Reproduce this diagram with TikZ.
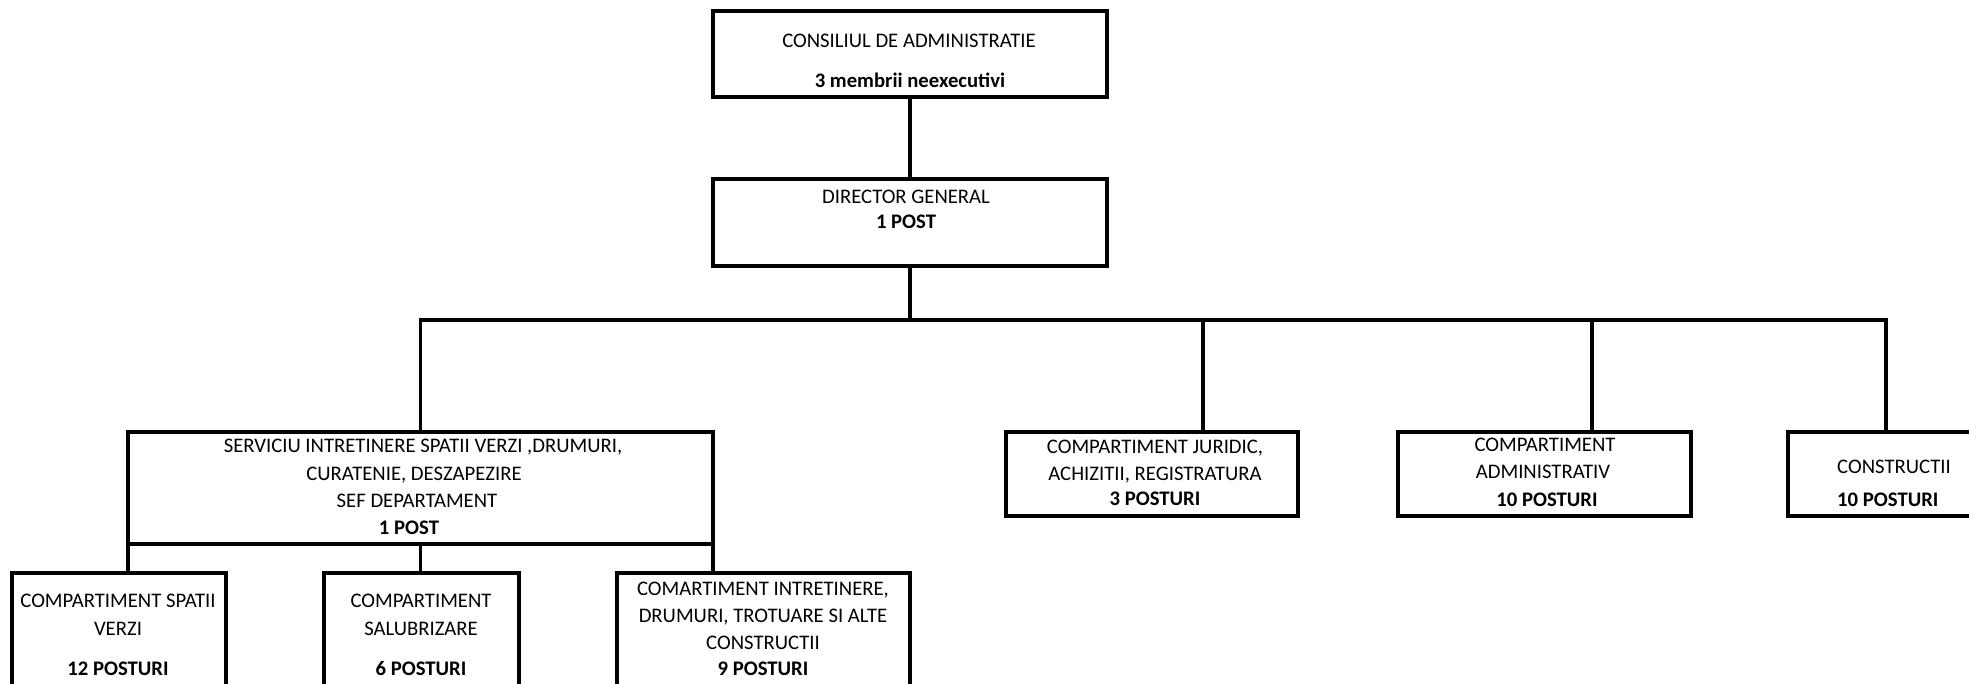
\documentclass[tikz,border=0pt]{standalone}
\usepackage{fontspec}
\setmainfont{Carlito}
\begin{document}
\begin{tikzpicture}[x=1pt,y=-1pt,
  box/.style={draw,line width=4pt,inner sep=0pt,outer sep=0pt,fill=white},
  conn/.style={line width=3.5pt},
  txt/.style={anchor=base,inner sep=0pt,font=\fontsize{20.7}{25}\selectfont},
  btxt/.style={txt,font=\fontsize{20.7}{25}\selectfont\bfseries}]
\useasboundingbox (0,0) rectangle (1969,683);
\clip (0,0) rectangle (1969,683);
% boxes
\node[box,minimum width=394pt,minimum height=86pt] (cons) at (910,54) {};
\node[box,minimum width=394pt,minimum height=87pt] (dir) at (910,222.5) {};
\node[box,minimum width=585pt,minimum height=112pt] (serv) at (420.5,487.5) {};
\node[box,minimum width=214pt,minimum height=137pt] (c1) at (119,641.5) {};
\node[box,minimum width=195pt,minimum height=137pt] (c2) at (421.5,641.5) {};
\node[box,minimum width=293pt,minimum height=137pt] (c3) at (763.5,641.5) {};
\node[box,minimum width=292pt,minimum height=84pt] (jur) at (1152,474) {};
\node[box,minimum width=293pt,minimum height=84pt] (adm) at (1544.5,474) {};
\node[box,minimum width=202pt,minimum height=84pt] (cst) at (1889,474) {};
% connectors
\coordinate (bus) at (910,320);
\draw[conn] (cons.south) -- (dir.north);
\draw[conn] (dir.south) -- (bus);
\draw[conn] (serv.north) |- (bus) -| ([xshift=-3pt]cst.north);
\draw[conn] ([xshift=51pt]jur.north) -- ([xshift=51pt]jur.north |- bus);
\draw[conn] ([xshift=47.5pt]adm.north) -- ([xshift=47.5pt]adm.north |- bus);
\draw[conn] (serv.south west) -- (serv.south west |- c1.north);
\draw[conn] (serv.south) -- (serv.south |- c2.north);
\draw[conn] (serv.south east) -- (serv.south east |- c3.north);
% texts
\node[txt] (tcons1) at (909,47) {CONSILIUL DE ADMINISTRATIE};
\node[btxt] (tcons2) at (910,87) {3 membrii neexecutivi};
\node[txt] (tdir1) at (906,203) {DIRECTOR GENERAL};
\node[btxt] (tdir2) at (906,228) {1 POST};
\node[txt] (tserv1) at (423,452) {SERVICIU INTRETINERE SPATII VERZI ,DRUMURI,};
\node[txt] (tserv2) at (414,480) {CURATENIE, DESZAPEZIRE};
\node[txt] (tserv3) at (417,507) {SEF DEPARTAMENT};
\node[btxt] (tserv4) at (409,534) {1 POST};
\node[txt] (tc11) at (118,607) {COMPARTIMENT SPATII};
\node[txt] (tc12) at (118,635) {VERZI};
\node[btxt] (tc13) at (118,675) {12 POSTURI};
\node[txt] (tc21) at (421,607) {COMPARTIMENT};
\node[txt] (tc22) at (421,635) {SALUBRIZARE};
\node[btxt] (tc23) at (421,675) {6 POSTURI};
\node[txt] (tc31) at (763,595) {COMARTIMENT INTRETINERE,};
\node[txt] (tc32) at (763,622) {DRUMURI, TROTUARE SI ALTE};
\node[txt] (tc33) at (763,649) {CONSTRUCTII};
\node[btxt] (tc34) at (763,675) {9 POSTURI};
\node[txt] (tjur1) at (1155,453) {COMPARTIMENT JURIDIC,};
\node[txt] (tjur2) at (1155,480) {ACHIZITII, REGISTRATURA};
\node[btxt] (tjur3) at (1155,505) {3 POSTURI};
\node[txt] (tadm1) at (1545,451) {COMPARTIMENT};
\node[txt] (tadm2) at (1543,478) {ADMINISTRATIV};
\node[btxt] (tadm3) at (1547,506) {10 POSTURI};
\node[txt,anchor=base west] (tcst1) at (1837,473) {CONSTRUCTII};
\node[btxt,anchor=base west] (tcst2) at (1837,506) {10 POSTURI};
\end{tikzpicture}
\end{document}
